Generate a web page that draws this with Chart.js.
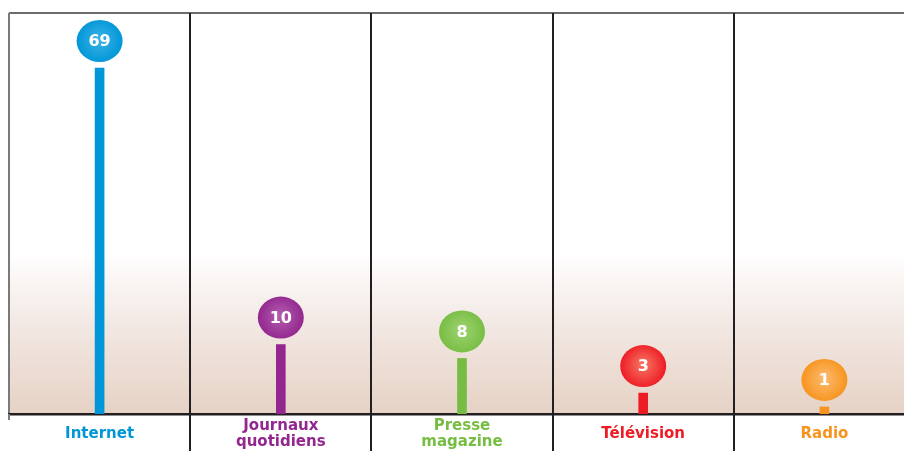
<!DOCTYPE html>
<html>
<head>
<meta charset="utf-8">
<script src="https://cdn.jsdelivr.net/npm/chart.js@4"></script>
<style>
  html, body { margin: 0; padding: 0; background: #fff; overflow: hidden; }
  #wrap { width: 904px; height: 451px; overflow: hidden; }
</style>
</head>
<body>
<div id="wrap"><canvas id="chart" width="916" height="470"></canvas></div>
<script>
var categories = [['Internet'], ['Journaux', 'quotidiens'], ['Presse', 'magazine'], ['Télévision'], ['Radio']];
var values = [69, 10, 8, 3, 1];
var colors = ['#0096d7', '#93278f', '#77bd43', '#ed1c24', '#f7941d'];
var lightColors = ['#38b0e6', '#b05aac', '#9bd26e', '#f6705f', '#fcb86a'];

// the chart squeezes the tall bar : values above 20 take less room
var squash = function(v) {
	return v <= 20 ? v : 20 + (v - 20) * 0.61;
};

class BrokenScale extends Chart.LinearScale {
	getPixelForValue(value) {
		return this.getPixelForDecimal(squash(value) / squash(this.max));
	}
	getValueForPixel(pixel) {
		var d = this.getDecimalForPixel(pixel) * squash(this.max);
		return d <= 20 ? d : 20 + (d - 20) / 0.61;
	}
}
BrokenScale.id = 'broken';
BrokenScale.defaults = Chart.LinearScale.defaults;
Chart.register(BrokenScale);

var lineColor = function(i) {
	return i === 0 ? '#7a7a7a' : '#231f20';
};

var framePlugin = {
	id: 'frame',
	beforeDraw: function(chart) {
		var ctx = chart.ctx;
		var a = chart.chartArea;
		var g = ctx.createLinearGradient(0, 252, 0, a.bottom);
		g.addColorStop(0, '#ffffff');
		g.addColorStop(0.45, '#f2e8e3');
		g.addColorStop(1, '#e6d2c5');
		ctx.save();
		ctx.fillStyle = g;
		ctx.fillRect(a.left, 252, a.right - a.left, a.bottom - 252);
		ctx.strokeStyle = '#3a3a3a';
		ctx.lineWidth = 1.5;
		ctx.beginPath();
		ctx.moveTo(a.left, a.top);
		ctx.lineTo(a.right, a.top);
		ctx.stroke();
		ctx.restore();
	},
	afterDraw: function(chart) {
		// column lines go on down through the label row
		var ctx = chart.ctx;
		var a = chart.chartArea;
		var x = chart.scales.x;
		var step = (a.right - a.left) / categories.length;
		ctx.save();
		ctx.lineWidth = 2;
		for (var i = 0; i < categories.length; i++) {
			var px = Math.round(x.getPixelForTick(i) - step / 2);
			ctx.strokeStyle = lineColor(i);
			ctx.beginPath();
			ctx.moveTo(px, a.bottom);
			ctx.lineTo(px, i === 0 ? a.bottom + 6 : chart.height);
			ctx.stroke();
		}
		ctx.restore();
	}
};

var bubblePlugin = {
	id: 'bubbles',
	afterDatasetsDraw: function(chart) {
		var ctx = chart.ctx;
		var meta = chart.getDatasetMeta(0);
		ctx.save();
		meta.data.forEach(function(bar, i) {
			var cx = bar.x;
			var cy = bar.y - 27;
			var g = ctx.createRadialGradient(cx, cy - 2, 2, cx, cy, 23);
			g.addColorStop(0, lightColors[i]);
			g.addColorStop(1, colors[i]);
			ctx.fillStyle = g;
			ctx.beginPath();
			ctx.ellipse(cx, cy, 23, 21, 0, 0, Math.PI * 2);
			ctx.fill();
			ctx.fillStyle = '#ffffff';
			ctx.font = 'bold 16px "DejaVu Sans"';
			ctx.textAlign = 'center';
			ctx.textBaseline = 'middle';
			ctx.fillText(String(values[i]), cx, cy + 1);
		});
		ctx.restore();
	}
};

new Chart(document.getElementById('chart'), {
	type: 'bar',
	data: {
		labels: categories,
		datasets: [{
			data: values,
			backgroundColor: colors,
			borderWidth: 0,
			barThickness: 9
		}]
	},
	options: {
		responsive: false,
		animation: false,
		devicePixelRatio: 1,
		layout: { padding: { left: 9, top: 13, right: 1, bottom: 0 } },
		plugins: {
			legend: { display: false },
			tooltip: { enabled: false }
		},
		scales: {
			x: {
				offset: true,
				grid: {
					offset: true,
					display: true,
					drawOnChartArea: true,
					drawTicks: false,
					lineWidth: 2,
					color: function(c) { return lineColor(c.index); }
				},
				border: { display: true, color: '#231f20', width: 2.5 },
				ticks: {
					padding: 12,
					crossAlign: 'center',
					color: colors,
					font: { family: 'DejaVu Sans', size: 15, weight: 'bold', lineHeight: 1.07 }
				}
			},
			y: {
				type: 'broken',
				display: false,
				min: 0,
				max: 82
			}
		}
	},
	plugins: [framePlugin, bubblePlugin]
});
</script>
</body>
</html>
